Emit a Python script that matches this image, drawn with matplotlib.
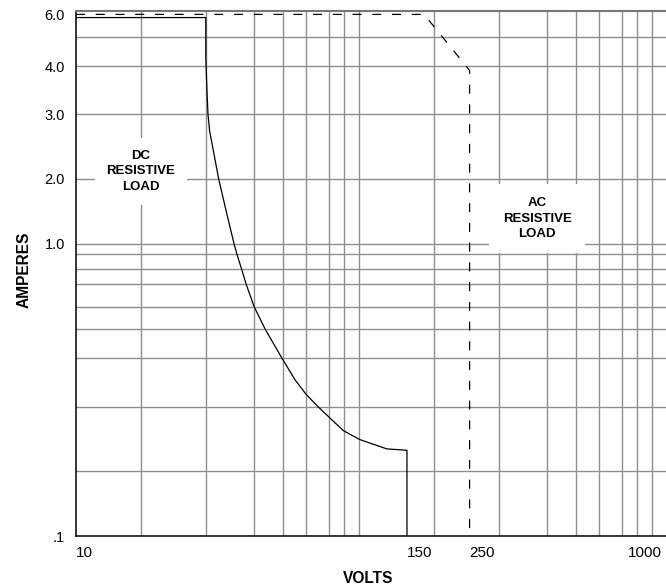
import numpy as np
import matplotlib
matplotlib.use('Agg')
import matplotlib.pyplot as plt

# DC resistive load limit (solid)
dc_volts = [10, 30, 30, 30.2, 30.4, 30.7, 32.4, 33.9, 35.5, 36.1, 37.1, 38.1, 40,
            43.6, 49.6, 55, 60, 65, 70.6, 79.5, 90.8, 121, 150, 150]
dc_amps = [5.85, 5.85, 4.3, 3.5, 3.0, 2.7, 2.0, 1.41, 1.0, 0.9, 0.8, 0.7, 0.6,
           0.5, 0.4, 0.352, 0.323, 0.3, 0.279, 0.258, 0.244, 0.230, 0.228, 0.1]

# AC resistive load limit (dashed)
ac_volts = [10, 180, 250, 250]
ac_amps = [6.0, 6.0, 3.9, 0.1]

x_ticks = [10, 150, 250, 1000]
x_ticklabels = ['10', '150', '250', '1000']
y_ticks = [0.1, 1.0, 2.0, 3.0, 4.0, 6.0]
y_ticklabels = ['.1', '1.0', '2.0', '3.0', '4.0', '6.0']

x_grid = [20, 30, 40, 50, 60, 70, 80, 90, 200, 300, 400, 500, 600, 700, 800, 900]
y_grid = [0.2, 0.3, 0.4, 0.5, 0.6, 0.7, 0.8, 0.9, 1, 2, 3, 4, 5]

# the chart paper is not a true log grid: fraction of a decade for mantissa 1..10
LOG_M = np.log10(np.arange(1, 11))
PAPER_F = [0, .222, .443, .608, .707, .785, .864, .915, .965, 1.0]


def fwd(v):
    v = np.clip(np.asarray(v, dtype=float), 1e-9, None)
    lg = np.log10(v)
    d = np.floor(lg + 1e-9)
    return d + np.interp(lg - d, LOG_M, PAPER_F)


def inv(s):
    s = np.asarray(s, dtype=float)
    d = np.floor(s + 1e-9)
    return 10 ** (d + np.interp(s - d, PAPER_F, LOG_M))


bold_font = dict(family=['Liberation Sans Narrow', 'Liberation Sans', 'DejaVu Sans'],
                 weight='bold')
tick_font = ['Liberation Sans', 'DejaVu Sans']

fig = plt.figure(figsize=(6.66, 5.88), dpi=100)
ax = fig.add_axes([0.1141, 0.0884, 0.8859, 0.8934])
ax.set_xscale('function', functions=(fwd, inv))
ax.set_yscale('function', functions=(fwd, inv))
ax.set_xlim(10, 1045)
ax.set_ylim(0.1, 6.15)
ax.xaxis.remove_overlapping_locs = False
ax.yaxis.remove_overlapping_locs = False

ax.set_xticks(x_ticks)
ax.set_xticklabels(x_ticklabels, ha='left', family=tick_font, fontsize=11)
ax.get_xticklabels()[-1].set_ha('right')
ax.set_yticks(y_ticks)
ax.set_yticklabels(y_ticklabels, family=tick_font, fontsize=10.5)
ax.set_xticks(x_grid, minor=True)
ax.set_yticks(y_grid, minor=True)
ax.tick_params(which='both', length=0)
ax.tick_params(axis='x', pad=7)
ax.tick_params(axis='y', pad=8)

ax.grid(False, which='major')
ax.grid(True, which='minor', color='#8f8f8f', lw=1.0)
ax.set_axisbelow(True)

ax.spines['left'].set_linewidth(1.1)
ax.spines['bottom'].set_linewidth(1.1)
ax.spines['top'].set_color('#777777')
ax.spines['top'].set_linewidth(1.5)
ax.spines['right'].set_visible(False)

ax.plot(dc_volts, dc_amps, color='black', lw=0.9, zorder=3)
ax.plot(ac_volts, ac_amps, color='black', lw=0.9, ls=(0, (7.2, 8.6)), zorder=3)

ax.text(20, 2.1, 'DC\nRESISTIVE\nLOAD', ha='center', va='center', fontsize=9.5,
        linespacing=1.4, zorder=4,
        bbox=dict(boxstyle='square,pad=0.9', facecolor='white', edgecolor='none'),
        **bold_font)
ax.text(377, 1.31, 'AC\nRESISTIVE\nLOAD', ha='center', va='center', fontsize=9.5,
        linespacing=1.4, zorder=4,
        bbox=dict(boxstyle='square,pad=1.0', facecolor='white', edgecolor='none'),
        **bold_font)

ax.set_xlabel('VOLTS', fontsize=11.2, **bold_font)
ax.set_ylabel('AMPERES', fontsize=11.2, **bold_font)
ax.xaxis.set_label_coords(0.495, -0.066)
ax.yaxis.set_label_coords(-0.075, 0.506)

fig.savefig('out.png', dpi=100)
plt.close(fig)
